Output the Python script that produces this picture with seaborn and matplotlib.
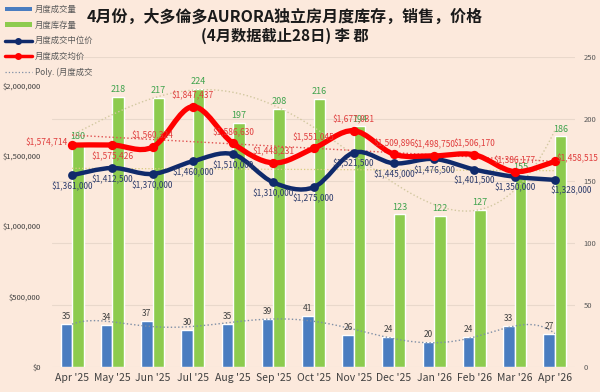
import numpy as np
import pandas as pd
import matplotlib
matplotlib.use("Agg")
import matplotlib.pyplot as plt
from matplotlib.path import Path
from matplotlib.patches import PathPatch, Patch
from matplotlib.lines import Line2D
from matplotlib.ticker import FuncFormatter
import seaborn as sns

# ---- Daten ----
months = ["Apr '25", "May '25", "Jun '25", "Jul '25", "Aug '25", "Sep '25", "Oct '25",
          "Nov '25", "Dec '25", "Jan '26", "Feb '26", "Mar '26", "Apr '26"]
sales = [35, 34, 37, 30, 35, 39, 41, 26, 24, 20, 24, 33, 27]
inventory = [180, 218, 217, 224, 197, 208, 216, 194, 123, 122, 127, 155, 186]
median_price = [1361000, 1412500, 1370000, 1460000, 1510000, 1310000, 1275000,
                1521500, 1445000, 1476500, 1401500, 1350000, 1328000]
avg_price = [1574714, 1575426, 1560324, 1847437, 1586630, 1448231, 1551045,
             1677031, 1509896, 1498750, 1506170, 1386177, 1458515]
avg_label_pos = ["left", "below", "above", "above", "above", "above", "above",
                 "above", "above", "above", "above", "above", "right"]

title1 = "4月份，大多倫多AURORA独立房月度库存，销售，价格"
title2 = "(4月数据截止28日) 李 郡"

bg = "#FCE9DC"
c_blue = "#4A7DC0"
c_green = "#8DCB4E"
c_navy = "#102A6B"
c_red = "#FF0000"

sns.set_theme(style="white")
plt.rcParams['font.family'] = ['Noto Sans CJK SC', 'DejaVu Sans']


def smooth_path(xs, ys):
    # Excel-artige geglaettete Linie als Bezier-Pfad
    pts = np.column_stack([xs, ys]).astype(float)
    verts = [pts[0]]
    codes = [Path.MOVETO]
    n = len(pts)
    for i in range(n - 1):
        p0 = pts[i - 1] if i > 0 else pts[i]
        p1 = pts[i]
        p2 = pts[i + 1]
        p3 = pts[i + 2] if i + 2 < n else pts[i + 1]
        verts += [p1 + (p2 - p0) / 6, p2 - (p3 - p1) / 6, p2]
        codes += [Path.CURVE4] * 3
    return Path(verts, codes)


fig = plt.figure(figsize=(6, 3.92), dpi=100, facecolor=bg)
ax_cnt = fig.add_axes([0.0867, 0.0638, 0.8716, 0.7908])
ax_cnt.set_facecolor(bg)

df = pd.DataFrame({
    'month': months * 2,
    'value': sales + inventory,
    'series': ['月度成交量'] * len(months) + ['月度库存量'] * len(months),
})
sns.barplot(data=df, x='month', y='value', hue='series', palette=[c_blue, c_green],
            width=0.57, saturation=1, ax=ax_cnt, legend=False, zorder=2)

ax_cnt.bar_label(ax_cnt.containers[0], padding=2, fontsize=6, color="#404040")
ax_cnt.bar_label(ax_cnt.containers[1], padding=2, fontsize=6.5, color="#3FA34D")

x = np.arange(len(months))
xx = np.linspace(0, len(months) - 1, 300)

# Trendlinien (polynomisch)
ax_cnt.plot(xx, np.polyval(np.polyfit(x, sales, 6), xx), ls=':', lw=1.0, color="#7F8FA6", zorder=3)
ax_cnt.plot(xx, np.polyval(np.polyfit(x, inventory, 4), xx), ls=':', lw=1.0, color="#D2C8A0", zorder=3)

# Preis-Achse links
ax_price = ax_cnt.twinx()
ax_price.patch.set_visible(False)
ax_price.yaxis.tick_left()
ax_price.set_ylim(0, 2200000)
ax_price.set_yticks(range(0, 2000001, 500000))
ax_price.yaxis.set_major_formatter(FuncFormatter(lambda v, p: f"${v:,.0f}"))
ax_price.tick_params(axis='y', labelsize=5.5, colors="#404040", length=0, pad=8)
for s in ax_price.spines.values():
    s.set_visible(False)

# Mengen-Achse rechts (nach twinx setzen!)
ax_cnt.set_xlim(-0.5, len(months) - 0.5)
ax_cnt.set_ylim(0, 250)
ax_cnt.set_yticks(range(0, 251, 50))
ax_cnt.yaxis.tick_right()
ax_cnt.grid(axis='y', color="#E9D8CB", lw=0.8, zorder=0)
ax_cnt.set_axisbelow(True)
ax_cnt.set_xlabel("")
ax_cnt.set_ylabel("")
ax_cnt.tick_params(axis='x', labelsize=7.5, colors="#404040", length=0, pad=4)
ax_cnt.tick_params(axis='y', labelsize=5.5, colors="#595959", length=0, pad=6)
for s in ax_cnt.spines.values():
    s.set_visible(False)

ax_price.plot(xx, np.polyval(np.polyfit(x, avg_price, 1), xx), ls=':', lw=1.0, color="#E05050", zorder=3)
ax_price.plot(xx, np.polyval(np.polyfit(x, median_price, 1), xx), ls=':', lw=0.9, color="#D8CC80", zorder=3)

ax_price.add_patch(PathPatch(smooth_path(x, median_price), facecolor='none', edgecolor=c_navy,
                             lw=3.2, capstyle='round', joinstyle='round', zorder=4))
sns.scatterplot(x=x, y=median_price, ax=ax_price, color=c_navy, s=40, edgecolor=c_navy,
                linewidth=0, zorder=5, legend=False)
ax_price.add_patch(PathPatch(smooth_path(x, avg_price), facecolor='none', edgecolor=c_red,
                             lw=3.8, capstyle='round', joinstyle='round', zorder=6))
sns.scatterplot(x=x, y=avg_price, ax=ax_price, color=c_red, s=45, edgecolor=c_red,
                linewidth=0, zorder=7, legend=False)
ax_price.set_xlim(-0.5, len(months) - 0.5)

for i, v in enumerate(median_price):
    if i == len(months) - 1:
        ax_price.annotate(f"${v:,}", (i, v), xytext=(-3, -8), textcoords='offset points',
                          ha='left', va='center', fontsize=6, color="#2B3A6B", zorder=8)
    else:
        ax_price.annotate(f"${v:,}", (i, v), xytext=(0, -8), textcoords='offset points',
                          ha='center', va='center', fontsize=6, color="#2B3A6B", zorder=8)

offsets = {"above": ((0, 8), 'center'), "below": ((0, -8), 'center'),
           "left": ((-3, 2), 'right'), "right": ((1, 2), 'left')}
for i, (v, pos) in enumerate(zip(avg_price, avg_label_pos)):
    off, ha = offsets[pos]
    ax_price.annotate(f"${v:,}", (i, v), xytext=off, textcoords='offset points',
                      ha=ha, va='center', fontsize=6, color="#E03C3C", zorder=8)

# Titel
fig.text(0.474, 0.958, title1, ha='center', va='center', fontsize=11.5, fontweight='bold', color="#1A1A1A")
fig.text(0.474, 0.908, title2, ha='center', va='center', fontsize=11, fontweight='bold', color="#1A1A1A")

# Legende
handles = [
    Patch(facecolor=c_blue, edgecolor='none'),
    Patch(facecolor=c_green, edgecolor='none'),
    Line2D([], [], color=c_navy, lw=2.5, marker='o', markersize=4),
    Line2D([], [], color=c_red, lw=2.5, marker='o', markersize=4),
    Line2D([], [], color="#7F8FA6", lw=0.9, ls=':'),
]
labels = ['月度成交量', '月度库存量', '月度成交中位价', '月度成交均价', 'Poly. (月度成交']
fig.legend(handles, labels, loc='upper left', bbox_to_anchor=(0.0, 1.0), frameon=False,
           fontsize=6, labelcolor="#595959", handlelength=3.2, handleheight=0.45,
           labelspacing=0.8, handletextpad=0.4, borderaxespad=0.2)

fig.savefig("out.png", dpi=100, facecolor=bg)
